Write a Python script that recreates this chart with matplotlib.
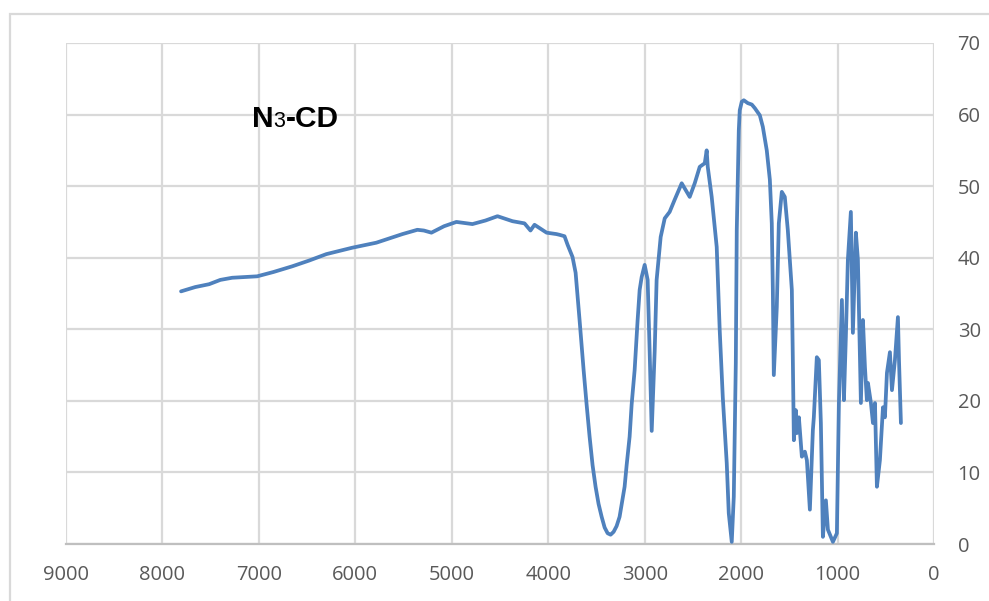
import matplotlib
matplotlib.use("Agg")
import matplotlib.pyplot as plt
from matplotlib.patches import Rectangle

# FTIR spectrum of N3-CD: wavenumber (cm-1) and transmittance (%)
wavenumber = [
    7807, 7660, 7516, 7400, 7277, 7018, 6850, 6654, 6480, 6301, 6031, 5782,
    5512, 5357, 5290, 5211, 5080, 4952, 4786, 4650, 4526, 4370, 4246, 4184,
    4142, 4017, 3914, 3883, 3831, 3799, 3748, 3716, 3675, 3633, 3602, 3571,
    3540, 3509, 3478, 3446, 3415, 3384, 3353, 3322, 3291, 3260, 3239, 3208,
    3187, 3156, 3135, 3104, 3073, 3052, 3031, 3000, 2969, 2948, 2927, 2896,
    2876, 2834, 2792, 2741, 2689, 2616, 2533, 2481, 2429, 2377, 2357, 2346,
    2305, 2253, 2222, 2190, 2149, 2128, 2097, 2076, 2055, 2045, 2024, 2014,
    1993, 1972, 1931, 1889, 1858, 1806, 1775, 1734, 1702, 1682, 1671, 1661,
    1630, 1609, 1578, 1547, 1516, 1474, 1464, 1453, 1433, 1422, 1401, 1370,
    1339, 1318, 1287, 1256, 1246, 1215, 1194, 1173, 1152, 1121, 1100, 1048,
    1007, 986, 955, 934, 914, 893, 862, 841, 810, 789, 758, 737,
    716, 696, 685, 654, 633, 612, 592, 561, 529, 509, 488, 457,
    436, 405, 374, 363, 343,
]
transmittance = [
    35.3, 35.9, 36.3, 36.9, 37.2, 37.4, 38.0, 38.8, 39.6, 40.5, 41.4, 42.1,
    43.3, 43.9, 43.8, 43.5, 44.4, 45.0, 44.7, 45.2, 45.8, 45.1, 44.8, 43.8,
    44.6, 43.5, 43.3, 43.2, 43.0, 41.8, 40.1, 37.9, 31.3, 24.3, 19.5, 15.0,
    11.0, 8.0, 5.6, 3.8, 2.3, 1.5, 1.3, 1.7, 2.5, 3.8, 5.5, 8.0,
    11.0, 15.0, 19.5, 24.3, 31.3, 35.5, 37.3, 39.0, 36.9, 26.7, 15.8, 27.0,
    36.9, 42.9, 45.5, 46.4, 48.1, 50.4, 48.5, 50.4, 52.7, 53.2, 55.0, 52.7,
    48.5, 41.5, 29.9, 20.5, 11.3, 4.3, 0.3, 6.6, 25.3, 43.9, 57.8, 60.6,
    61.8, 62.0, 61.6, 61.4, 60.9, 59.9, 58.3, 55.0, 50.9, 44.8, 35.5, 23.6,
    33.1, 44.8, 49.2, 48.5, 43.9, 35.5, 26.1, 14.5, 18.7, 15.5, 17.7, 12.2,
    12.9, 11.7, 4.8, 15.9, 17.7, 26.1, 25.7, 16.9, 1.0, 6.1, 2.0, 0.3,
    1.5, 19.7, 34.1, 20.1, 28.9, 39.7, 46.4, 29.5, 43.5, 39.7, 19.7, 31.3,
    24.7, 20.1, 22.5, 19.7, 16.9, 19.7, 8.0, 11.7, 19.1, 17.7, 23.9, 26.8,
    21.5, 25.7, 31.7, 25.7, 16.9,
]

x_ticks = [9000, 8000, 7000, 6000, 5000, 4000, 3000, 2000, 1000, 0]
y_ticks = [0, 10, 20, 30, 40, 50, 60, 70]

W, H = 989, 601
fig = plt.figure(figsize=(W / 100, H / 100), dpi=100)
fig.patch.set_facecolor("white")

# outer chart frame
fig.patches.append(Rectangle((10 / W, -0.05), 1.2, (H - 14) / H + 0.05,
                             transform=fig.transFigure, fill=False,
                             edgecolor="#d9d9d9", linewidth=1.6))

ax = fig.add_axes([66 / W, (H - 544) / H, (934 - 66) / W, (544 - 43) / H])
ax.set_xlim(9000, 0)
ax.set_ylim(0, 70)

ax.plot(wavenumber, transmittance, color="#4f81bd", linewidth=2.7,
        solid_joinstyle="round", solid_capstyle="round", clip_on=False,
        zorder=3)

ax.set_xticks(x_ticks)
ax.set_yticks(y_ticks)
ax.set_xticklabels([str(v) for v in x_ticks])
ax.set_yticklabels([str(v) for v in y_ticks])
ax.yaxis.tick_right()

for s in ("top", "left", "right"):
    ax.spines[s].set_visible(False)
ax.spines["bottom"].set_color("#bfbfbf")
ax.spines["bottom"].set_linewidth(1.6)

ax.grid(True, color="#d9d9d9", linewidth=1.6, zorder=0)
ax.set_axisbelow(True)

label_family = ["Open Sans", "DejaVu Sans"]
ax.tick_params(axis="x", length=0, pad=15, labelcolor="#595959")
ax.tick_params(axis="y", length=0, pad=17, labelcolor="#595959")
for lab in ax.get_xticklabels() + ax.get_yticklabels():
    lab.set_fontfamily(label_family)
    lab.set_fontsize(14.5)

# sample name, with a smaller non-bold "3"
title_family = ["Liberation Sans", "DejaVu Sans"]
t1 = ax.text(7075, 58.3, "N", fontsize=21.5, fontweight="bold",
             family=title_family, va="baseline", ha="left", color="black")
t2 = ax.annotate("3", xy=(1, 0), xycoords=t1, xytext=(0.3, 0.6),
                 textcoords="offset points", fontsize=15.5,
                 family=title_family, va="bottom", ha="left", color="black")
t3 = ax.annotate("-CD", xy=(1, 0), xycoords=t2, xytext=(0, -0.6),
                 textcoords="offset points", fontsize=21.5, fontweight="bold",
                 family=title_family, va="bottom", ha="left", color="black")

fig.savefig("out.png", dpi=100, facecolor="white")
